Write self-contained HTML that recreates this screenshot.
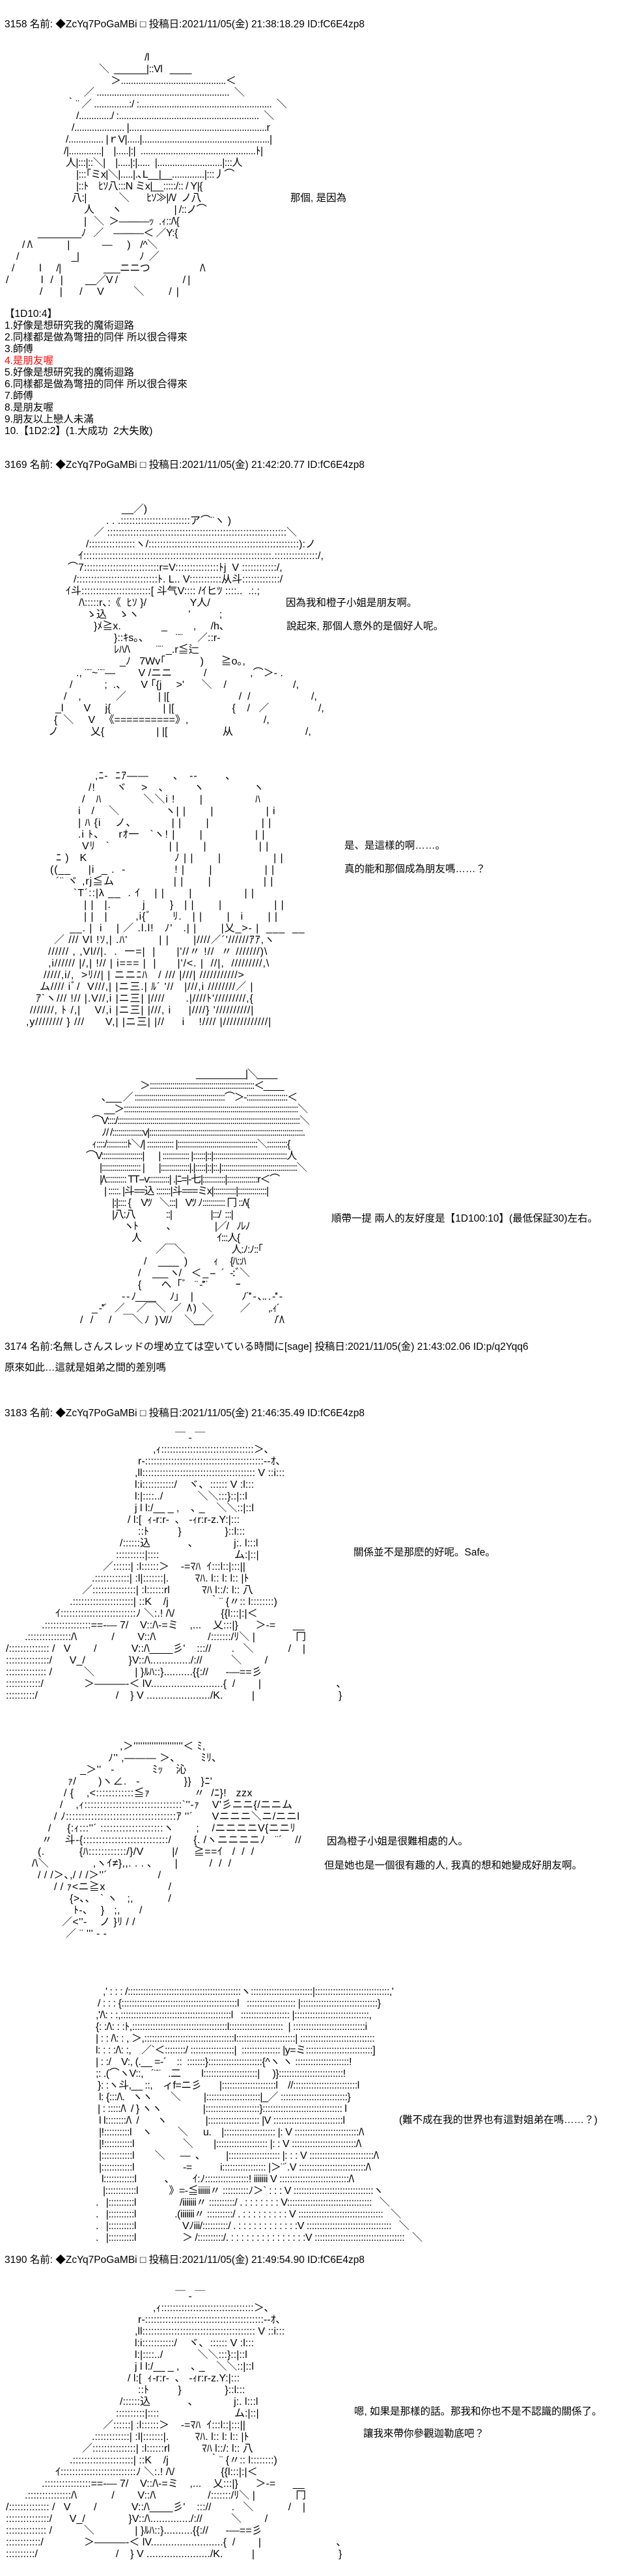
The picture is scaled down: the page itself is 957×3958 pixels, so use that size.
<!DOCTYPE html>
<html><head><meta charset="utf-8">
<style>
html,body{margin:0;padding:0;background:#fff;}
body{width:957px;height:3958px;position:relative;overflow:hidden;color:#000;
font-family:"Liberation Sans","Noto Sans CJK JP",sans-serif;}
.b{position:absolute;left:0;font-size:16px;line-height:18px;white-space:normal;}
.b div{height:18px;white-space:pre;}
.t{position:absolute;font-size:15.5px;line-height:18px;white-space:pre;}
.h{position:absolute;left:7px;font-size:15.5px;line-height:18px;white-space:pre;}
.r{color:#f00;}
</style></head><body>

<div class="h" style="top:29px">3158 名前: ◆ZcYq7PoGaMBi □ 投稿日:2021/11/05(金) 21:38:18.29 ID:fC6E4zp8</div>

<div class="b" style="top:80px;letter-spacing:-0.6px">
<div style="padding-left:222px">/l</div>
<div style="padding-left:152px">＼  ______|::Vl   ____</div>
<div style="padding-left:170px">＞..........................................＜</div>
<div style="padding-left:129px">／ .....................................................  ＼</div>
<div style="padding-left:101px">｀¨ ／ ..............:/ :.....................................................  ＼</div>
<div style="padding-left:117px">/............./ :........................................................  ＼</div>
<div style="padding-left:110px">/.................... |.......................................................r</div>
<div style="padding-left:101px">/.............. |ｒV|.....|...................................................|</div>
<div style="padding-left:98px">/|.............|    |.....|:|  ..............................................ﾄ|</div>
<div style="padding-left:101px">人|:::|::＼|    |.....|:|.....  |..........................|:::人</div>
<div style="padding-left:117px">|:::｢ミx|＼|.....|.､L__|__.............|:::丿⌒</div>
<div style="padding-left:117px">|::ﾄ    ﾋｿ八:::N ミx|__:::::/:: / Y|{</div>
<div style="padding-left:110px">八:|             ＼       ﾋｿ≫|/\/  ノ八</div>
<div style="padding-left:129px">人       ヽ                     | /::ノ⌒</div>
<div style="padding-left:129px">|   ＼  ＞―――ｯ  .ｨ::/\{</div>
<div style="padding-left:58px">________ﾉ   ／    ―――＜ ／Y:{</div>
<div style="padding-left:34px">/ /\              |             ―      )    /^＼</div>
<div style="padding-left:25px">/                     _|                        ﾉ  ／</div>
<div style="padding-left:18px">/          l      /|                 ___ニニつ                    /\</div>
<div style="padding-left:9px">/             l   /   |         __／V /                          / |</div>
<div style="padding-left:61px">/       |       /      V            ＼          /  |</div>
</div>

<div class="t" style="left:446px;top:296px">那個, 是因為</div>

<div class="b" style="top:474px;left:7px;font-size:15.5px">
<div>【1D10:4】</div>
<div>1.好像是想研究我的魔術迴路</div>
<div>2.同樣都是做為彆扭的同伴 所以很合得來</div>
<div>3.師傅</div>
<div class="r">4.是朋友喔</div>
<div>5.好像是想研究我的魔術迴路</div>
<div>6.同樣都是做為彆扭的同伴 所以很合得來</div>
<div>7.師傅</div>
<div>8.是朋友喔</div>
<div>9.朋友以上戀人未滿</div>
<div>10.【1D2:2】(1.大成功  2大失敗)</div>
</div>

<div class="h" style="top:706px">3169 名前: ◆ZcYq7PoGaMBi □ 投稿日:2021/11/05(金) 21:42:20.77 ID:fC6E4zp8</div>

<div class="b" style="top:774px">
<div style="padding-left:187px">__／)</div>
<div style="padding-left:163px">. . .::::::::::::::::::::::::ア⌒¨ヽ )</div>
<div style="padding-left:144px">／ ::::::::::::::::::::::::::::::::::::::::::::::::::::::::::::::＼</div>
<div style="padding-left:132px">/::::::::::::::::ヽ/::::::::::::::::::::::::::::::::::::::::::::::::::::):ノ</div>
<div style="padding-left:120px">ｲ:::::::::::::::::::::::::::::::::::::::::::::::::::::::::::::::::.:::::::::::::::/,</div>
<div style="padding-left:104px">⌒7::::::::::::::::::::::::::r=V:::::::::::::::ﾄj  V ::::::::::::/,</div>
<div style="padding-left:113px">/::::::::::::::::::::::::::::ﾄ. L.. V:::::::::::从斗:::::::::::::/</div>
<div style="padding-left:101px">ｲ斗::::::::::::::::::::::::[ 斗气V:::: /ｲヒﾂ ::::..  .:.;</div>
<div style="padding-left:121px">/\:::::r､:《  ﾋｿ }/               Y人/</div>
<div style="padding-left:132px">ゝ込    ゝヽ                 '          ;</div>
<div style="padding-left:144px">}ﾒ≧x.              _         ,     /h､</div>
<div style="padding-left:175px">}::ｷs｡､           ¨¨     ／::r‐</div>
<div style="padding-left:175px">ﾚﾊ/\         ¨¨ _.r≦辷</div>
<div style="padding-left:184px">_ﾉ   7Wv｢            )      ≧o｡,</div>
<div style="padding-left:117px">., ¨¨~¨¨―        V /ニニ           /               ,⌒＞- .</div>
<div style="padding-left:107px">/           ;  .、     V ｢{j     >'      ＼    /                       /,</div>
<div style="padding-left:98px">/    ,            ／           | |[                        /  /                     /,</div>
<div style="padding-left:85px">_l       V     j{                  | |[                    {    /   ／                 /,</div>
<div style="padding-left:83px">{  ＼     V   《==========》,                          /,</div>
<div style="padding-left:74px">ノ           乂{                  | |[                   从                         /,</div>
</div>

<div class="t" style="left:439px;top:918px">因為我和橙子小姐是朋友啊。</div>
<div class="t" style="left:440px;top:954px">說起來, 那個人意外的是個好人呢。</div>

<div class="b" style="top:1184px;letter-spacing:0.9px">
<div style="padding-left:146px">,ﾆ-  ﾆｱ――       ､   ‐‐        ､</div>
<div style="padding-left:136px">/!      ヾ    >   、       ヽ              ヽ</div>
<div style="padding-left:126px">/   ﾊ            ＼＼i !       |               ﾊ</div>
<div style="padding-left:120px">i   /    ＼             ヽ| |       |               | i</div>
<div style="padding-left:120px">| ﾊ {i    ノ、          | |       |               | |</div>
<div style="padding-left:120px">.i ﾄ、    rｵ一   `ヽ! |       |               | |</div>
<div style="padding-left:126px">Vﾘ   `                 | |       |               | |</div>
<div style="padding-left:86px">ﾆ )   K                         ﾉ | |       |               | |</div>
<div style="padding-left:77px">((__     |i  _ .  -              ! |       |               | |</div>
<div style="padding-left:86px">´¨ ヾ ,rj≦ム                 | |       |               | |</div>
<div style="padding-left:113px">`T´::|λ __  . ｲ    | |       |               | |</div>
<div style="padding-left:129px">| |   |.         j       }   | |       |               | |</div>
<div style="padding-left:129px">| |   |        ,i{ﾞ      ﾘ.   | |       |   i       | |</div>
<div style="padding-left:107px">__. |  i    | ／ .l.l!   ﾉ'   .| |       |乂_>- |  ___  __</div>
<div style="padding-left:83px">／ /// Vl !ｿ,| .ﾊ'         | |       |////／´'//////ｱｱ,ヽ</div>
<div style="padding-left:74px">////// , ,Vl//|.  .  一=|  |      |'//〃 !//  〃 ///////)\</div>
<div style="padding-left:74px">,i////// |/,| !// | i=== |  |      |'/<. |  //|,  /////////,\</div>
<div style="padding-left:67px">/////,i/,  >ﾘ//| | ニニﾆﾊ   / /// |///| ///////////></div>
<div style="padding-left:61px">ム//// iﾞ/  V///,| |ニ三.| ﾙ´ '//   |///,i ////////／ |</div>
<div style="padding-left:55px">ｱ`ヽ/// !// |.V//,i |ニ三| |////      .|////ﾄ'/////////,{</div>
<div style="padding-left:46px">///////, ﾄ /,|    V/,i |ニ三| |///, i     |////} '//////////|</div>
<div style="padding-left:40px">,y//////// } ///      V,| |ニ三| |//     i    !//// |/////////////|</div>
</div>

<div class="t" style="left:529px;top:1291px">是、是這樣的啊……。</div>
<div class="t" style="left:529px;top:1327px">真的能和那個成為朋友嗎……？</div>

<div class="b" style="top:1642px;letter-spacing:-1.3px">
<div style="padding-left:301px">__________|＼____</div>
<div style="padding-left:215px">＞:::::::::::::::::::::::::::::::::::::::::::::::::::＜____</div>
<div style="padding-left:156px">､___ ／ ::::::::::::::::::::::::::::::::::::::::::::⌒＞‐::::::::::::::::::::＜</div>
<div style="padding-left:160px">__＞:::::::::::::::::::::::::::::::::::::::::::::::::::::::::::::::::::::::::::::::::::::＼</div>
<div style="padding-left:141px">⌒V::::/:::::::::::::::::::::::::::::::::::::::::::::::::::::::::::::::::::::::::::::::::::::::::＼</div>
<div style="padding-left:156px">ﾉ/ /:::::::::::::::v|:::::::::::::::::::::::::::::::::::::::::::::::::::::::::::::::::::::::::::.</div>
<div style="padding-left:141px">ｨ::::/::::::::::ﾄ＼/| ::::::::::::: |:::::::::::::::::::::::::::::::::::::::＼::::::::::{</div>
<div style="padding-left:132px">⌒V::::::::::::::::::::|       | ::::::::::::: |::::::|::|::::::::::::::::::::::::::::::::::::人</div>
<div style="padding-left:153px">|::::::::::::::::::: |       |::::::::::::::|.|:::::|::|::.|:::::::::::::::::::::::::::::::::::::＼</div>
<div style="padding-left:153px">|/\:::::::::: TT‐‐v::::::::::| .|ﾆ=|‐七|:::::::::::|:::::::::::::::r＜⌒</div>
<div style="padding-left:160px">| :::::. |斗==込 :::::::|斗===ミx|:::::::::::|::::::::::::::|</div>
<div style="padding-left:172px">|:|:::: {     Vﾂ    ＼:::|    Vﾂ ﾉ::::::::::: 冂 ::/\{</div>
<div style="padding-left:172px">|八:八               ::|                   |:::/  :::|</div>
<div style="padding-left:190px">ヽﾄ              、                   |／/    ﾉﾚﾉ</div>
<div style="padding-left:202px">人                                     ｲ:::人{</div>
<div style="padding-left:239px">／￣＼                       人:ﾉ:ﾉ::｢</div>
<div style="padding-left:221px">/      ____   )             ｨ      {ﾊ::ﾊ</div>
<div style="padding-left:212px">/      ___ ヽ/     ＜ _ -‐   ´   ‐:ﾞ＼</div>
<div style="padding-left:212px">{          ヘ   ｢ﾞ    ¨ ‐''¨              ｰ</div>
<div style="padding-left:187px">- ‐ ﾉ____       ﾉ｣      |                        ﾉ´'' ‐ ､.. . ‐'' ‐</div>
<div style="padding-left:141px">_ ‐''´    ／      ／￣＼   ／   /\ )   ＼              ／         ,.ｨ´</div>
<div style="padding-left:123px">/    /        /      ￣＼ ﾉ   ) V/ﾉ      ＼__／                              /´/\</div>
</div>

<div class="t" style="left:509px;top:1864px">順帶一提 兩人的友好度是【1D100:10】(最低保証30)左右。</div>

<div class="h" style="top:2061px">3174 名前:名無しさんスレッドの埋め立ては空いている時間に[sage] 投稿日:2021/11/05(金) 21:43:02.06 ID:p/q2Yqq6</div>
<div class="h" style="top:2093px">原來如此…這就是姐弟之間的差別嗎</div>

<div class="h" style="top:2163px">3183 名前: ◆ZcYq7PoGaMBi □ 投稿日:2021/11/05(金) 21:46:35.49 ID:fC6E4zp8</div>

<div class="b" style="top:2201px">
<div style="padding-left:269px">￣ ‐ ￣</div>
<div style="padding-left:235px">,ｨ::::::::::::::::::::::::::::::::＞､</div>
<div style="padding-left:212px">r‐:::::::::::::::::::::::::::::::::::::::::‐‐ｵ､</div>
<div style="padding-left:207px">,ll::::::::::::::::::::::::::::::::::::::: V ::i:::</div>
<div style="padding-left:207px">l:i:::::::::::/    ヾ､  :::::: V :l:::</div>
<div style="padding-left:207px">l:|::::../            ＼＼:::}::|::l</div>
<div style="padding-left:207px">j l l:/__ _ ,    ､ _    ＼＼::|::l</div>
<div style="padding-left:196px">/ l:[  ｨ‐r:r‐  ､   ‐ｨr:r‐z.Y:|:::</div>
<div style="padding-left:212px">::ﾄ          }               }::l:::</div>
<div style="padding-left:184px">/::::::込             ､              j:. l:::l</div>
<div style="padding-left:178px">::::::::::|::::                          ム:|::|</div>
<div style="padding-left:158px">／::::::| :l::::::＞    ‐=ﾏﾊ  ｲ:::l::|:::||</div>
<div style="padding-left:141px">.::::::::::::| :l|:::::::|.         ﾏﾊ. l:: l: l:: |ﾄ</div>
<div style="padding-left:126px">／:::::::::::::::| :l::::::rl           ﾏﾊ l::/: l:: 八</div>
<div style="padding-left:107px">.:::::::::::::::::::::| ::K    /j              ｀¨ {〃:: l::::::::)</div>
<div style="padding-left:85px">ｲ::::::::::::::::::::::::::ﾉ ＼:.! /\/                {{l:::|:|＜</div>
<div style="padding-left:64px">.::::::::::::::::==-― 7/    V::/\-=ミ    ,...    乂:::|}      ＞-=      __</div>
<div style="padding-left:38px">.:::::::::::::::/\            /        V::/\                  /:::::::/ﾘ＼ |              冂</div>
<div style="padding-left:9px">/:::::::::::::: /   V        /            V::/\____彡'    ::://       .   ＼            /    |</div>
<div style="padding-left:9px">:::::::::::::::/      V_/               }V::/\............../://          ＼        /</div>
<div style="padding-left:9px">:::::::::::::: /           ＼              | }ﾙﾊ::}..........{{://      -―==彡</div>
<div style="padding-left:9px">::::::::::::/              ＞―――-＜ lV.........................{  /        |                          ､</div>
<div style="padding-left:9px">::::::::::/                           /    } V ....................../K.          |                             }</div>
</div>

<div class="t" style="left:543px;top:2377px">關係並不是那麽的好呢。Safe。</div>

<div class="b" style="top:2675px;letter-spacing:0.4px">
<div style="padding-left:184px">,＞''''''''''''''''''''''＜ ﾐ,</div>
<div style="padding-left:166px">ﾉ'' ,――― ＞､        ﾐﾘ､</div>
<div style="padding-left:123px">_＞''   ‐            ﾐｯ    沁</div>
<div style="padding-left:104px">ｧ/       )ヽ∠.   ‐              }}   }ﾆ'</div>
<div style="padding-left:98px">/ {    ,<::::::::::::≦ｧ              〃  /ﾆ}!   zzx</div>
<div style="padding-left:92px">/    ,ｨ:::::::::::::::::::::::::::::::`''‐ｧ    V'彡ニニ{/ニニム</div>
<div style="padding-left:83px">/ ﾉ:::::::::::::::::::::::::::::::::::ｱ ''´      Vニニニ＼ニ/ニニl</div>
<div style="padding-left:74px">/     {:ｨ:::''´ ::::::::::::::::::::ヽ       ;    /ニニニニV{ニニﾘ</div>
<div style="padding-left:64px">〃    斗-{:::::::::::::::::::::::::::/       {. /ヽニニニニﾉ   ¨´    //</div>
<div style="padding-left:58px">(.           {ﾊ::::::::::::/}/V         |/     ≧==ｲ   /  /  /</div>
<div style="padding-left:49px">/\＼              ,ヽｲ≠},,. . . ､       |          /  /  /</div>
<div style="padding-left:58px">/ / /＞､,/ / /＞''´                /</div>
<div style="padding-left:83px">/ / ｧ<ニ≧x                    /</div>
<div style="padding-left:107px">{>､､   ` ヽ   ;,           /</div>
<div style="padding-left:113px">ﾄ-､    }   ;,      /</div>
<div style="padding-left:95px">／<''‐    ノ }ﾘ / /</div>
<div style="padding-left:101px">／ ¨ ''' ‐ ‐</div>
</div>

<div class="t" style="left:502px;top:2821px">因為橙子小姐是很難相處的人。</div>
<div class="t" style="left:498px;top:2858px">但是她也是一個很有趣的人, 我真的想和她變成好朋友啊。</div>

<div class="b" style="top:3052px;letter-spacing:-0.5px">
<div style="padding-left:158px">,' : : : /::::::::::::::::::::::::::::::::::::::::::::ヽ::::::::::::::::::::::::|:::::::::::::::::::::::::::::,'</div>
<div style="padding-left:150px">/ : : : {:::::::::::::::::::::::::::::::::::::::::::::l   ::::::::::::::::::: |::::::::::::::::::::::::::::::}</div>
<div style="padding-left:147px">,'/\: : :,:::::::::::::::::::::::::::::::::::::::::::l   ::::::::::::::::::: |:::::::::::::::::::::::::::::,</div>
<div style="padding-left:147px">{: :/\: : :ﾄ,:::::::::::::::::::::::::::::::::::::l:::::::::::::::::::::  | ::::::::::::::::::::::::::::i</div>
<div style="padding-left:147px">| : : /\: : , ＞,:::::::::::::::::::::::::::::::::::l:::::::::::::::::::::::| :::::::::::::::::::::::::::::</div>
<div style="padding-left:147px">l: : : :/\: :,    ／`＜::::::::/ :::::::::::::::::|  ::::::::::::::: |y=ミ::::::::::::::::::::::::::]</div>
<div style="padding-left:147px">| : :/    V:, (.__ =-´    ::  :::::::}:::::::::::::::::::::{^ヽ ヽ :::::::::::::::::::::!</div>
<div style="padding-left:147px">;: .(⌒ヽV::,   ´¨¨   .二        l:::::::::::::::::::::|     )}:::::::::::::::::::::::::!</div>
<div style="padding-left:150px">}: :ヽ斗,__ ::,    ィf=ニ彡       |:::::::::::::::::::::l    //:::::::::::::::::::::::::l</div>
<div style="padding-left:152px">l: {:::/\.   ヽヽ       ＼         |:::::::::::::::::::::|_／ ::::::::::::::::::::::::::}</div>
<div style="padding-left:150px">| : :::::/\  / } ヽヽ                |:::::::::::::::::::::}::::::::::::::::::::::::::::::: l</div>
<div style="padding-left:152px">l l::::::::/\  /       ヽ               |:::::::::::::::::::: |V :::::::::::::::::::::::::::l</div>
<div style="padding-left:152px">|!::::::::::l    ヽ          ＼      u.    |:::::::::::::::::::: |: V :::::::::::::::::::::::::/\</div>
<div style="padding-left:152px">|!:::::::::::l                   ＼        |:::::::::::::::::::: |: : V :::::::::::::::::::::::::/\</div>
<div style="padding-left:152px">|::::::::::::l        ＼      ―  ､          |:::::::::::::::::::: |: : : V :::::::::::::::::::::::::/\</div>
<div style="padding-left:152px">|::::::::::::l                   -=           i::::::::::::::::: |＞¨´.V ::::::::::::::::::::::::::/\</div>
<div style="padding-left:152px"> l::::::::::::l           ､         ｲ:ﾉ:::::::::::::::::! iiiiiii V :::::::::::::::::::::::::::/\</div>
<div style="padding-left:158px">|::::::::::::l            》=-≦iiiiii〃 ::::::::::ﾉ＞` : : : V :::::::::::::::::::::::::::::::ヽ</div>
<div style="padding-left:147px">.   |::::::::::l                 /iiiiiii〃 ::::::::::/ . : : : : : : : V:::::::::::::::::::::::::::::::::   ＼</div>
<div style="padding-left:147px">.   |::::::::::l               .(iiiiiii〃 ::::::::::/ . : : : : : : : : : V :::::::::::::::::::::::::::::::::   ＼</div>
<div style="padding-left:147px">.   |::::::::::l                  Vﾉiii/::::::::::/ . : : : : : : : : : : : :V :::::::::::::::::::::::::::::::::   ＼</div>
<div style="padding-left:147px">.   |::::::::::l                  ＞ /::::::::::/. : : : : : : : : : : : : : : :V :::::::::::::::::::::::::::::::::::   ＼</div>
</div>

<div class="t" style="left:613px;top:3249px">(難不成在我的世界也有這對姐弟在嗎……？)</div>

<div class="h" style="top:3464px">3190 名前: ◆ZcYq7PoGaMBi □ 投稿日:2021/11/05(金) 21:49:54.90 ID:fC6E4zp8</div>

<div class="b" style="top:3520px">
<div style="padding-left:269px">￣ ‐ ￣</div>
<div style="padding-left:235px">,ｨ::::::::::::::::::::::::::::::::＞､</div>
<div style="padding-left:212px">r‐:::::::::::::::::::::::::::::::::::::::::‐‐ｵ､</div>
<div style="padding-left:207px">,ll::::::::::::::::::::::::::::::::::::::: V ::i:::</div>
<div style="padding-left:207px">l:i:::::::::::/    ヾ､  :::::: V :l:::</div>
<div style="padding-left:207px">l:|::::../            ＼＼:::}::|::l</div>
<div style="padding-left:207px">j l l:/__ _ ,    ､ _    ＼＼::|::l</div>
<div style="padding-left:196px">/ l:[  ｨ‐r:r‐  ､   ‐ｨr:r‐z.Y:|:::</div>
<div style="padding-left:212px">::ﾄ          }               }::l:::</div>
<div style="padding-left:184px">/::::::込             ､              j:. l:::l</div>
<div style="padding-left:178px">::::::::::|::::                          ム:|::|</div>
<div style="padding-left:158px">／::::::| :l::::::＞    ‐=ﾏﾊ  ｲ:::l::|:::||</div>
<div style="padding-left:141px">.::::::::::::| :l|:::::::|.         ﾏﾊ. l:: l: l:: |ﾄ</div>
<div style="padding-left:126px">／:::::::::::::::| :l::::::rl           ﾏﾊ l::/: l:: 八</div>
<div style="padding-left:107px">.:::::::::::::::::::::| ::K    /j              ｀¨ {〃:: l::::::::)</div>
<div style="padding-left:85px">ｲ::::::::::::::::::::::::::ﾉ ＼:.! /\/                {{l:::|:|＜</div>
<div style="padding-left:64px">.::::::::::::::::==-― 7/    V::/\-=ミ    ,...    乂:::|}      ＞-=      __</div>
<div style="padding-left:38px">.:::::::::::::::/\            /        V::/\                  /:::::::/ﾘ＼ |              冂</div>
<div style="padding-left:9px">/:::::::::::::: /   V        /            V::/\____彡'    ::://       .   ＼            /    |</div>
<div style="padding-left:9px">:::::::::::::::/      V_/               }V::/\............../://          ＼        /</div>
<div style="padding-left:9px">:::::::::::::: /           ＼              | }ﾙﾊ::}..........{{://      -―==彡</div>
<div style="padding-left:9px">::::::::::::/              ＞―――-＜ lV.........................{  /        |                          ､</div>
<div style="padding-left:9px">::::::::::/                           /    } V ....................../K.          |                             }</div>
</div>

<div class="t" style="left:544px;top:3697px">嗯, 如果是那樣的話。那我和你也不是不認識的關係了。</div>
<div class="t" style="left:558px;top:3731px">讓我來帶你參觀迦勒底吧？</div>

</body></html>
